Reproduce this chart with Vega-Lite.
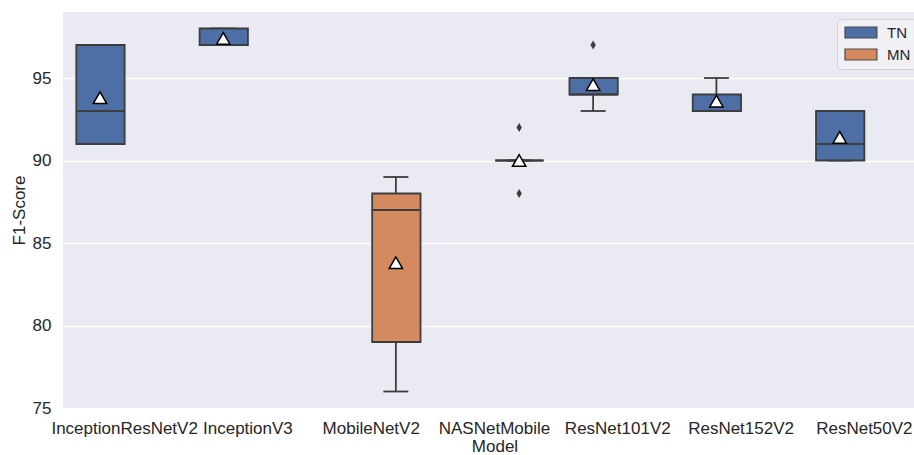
{
  "$schema": "https://vega.github.io/schema/vega-lite/v6.json",
  "width": 851,
  "height": 396,
  "autosize": "none",
  "padding": {"left": 63, "top": 12, "right": 0, "bottom": 47},
  "background": "white",
  "datasets": {
    "boxes": [
      {"model": "InceptionResNetV2", "group": "TN", "lower": 91, "q1": 91, "median": 93, "q3": 97, "upper": 97, "mean": 93.8},
      {"model": "InceptionV3", "group": "TN", "lower": 97, "q1": 97, "median": 97, "q3": 98, "upper": 98, "mean": 97.4},
      {"model": "MobileNetV2", "group": "MN", "lower": 76, "q1": 79, "median": 87, "q3": 88, "upper": 89, "mean": 83.8},
      {"model": "NASNetMobile", "group": "MN", "lower": 90, "q1": 90, "median": 90, "q3": 90, "upper": 90, "mean": 90},
      {"model": "ResNet101V2", "group": "TN", "lower": 93, "q1": 94, "median": 94, "q3": 95, "upper": 95, "mean": 94.6},
      {"model": "ResNet152V2", "group": "TN", "lower": 93, "q1": 93, "median": 93, "q3": 94, "upper": 95, "mean": 93.6},
      {"model": "ResNet50V2", "group": "TN", "lower": 90, "q1": 90, "median": 91, "q3": 93, "upper": 93, "mean": 91.4}
    ],
    "outliers": [
      {"model": "NASNetMobile", "group": "MN", "value": 92},
      {"model": "NASNetMobile", "group": "MN", "value": 88},
      {"model": "ResNet101V2", "group": "TN", "value": 97}
    ]
  },
  "config": {
    "font": "Liberation Sans",
    "view": {"fill": "#EAEAF2", "stroke": null},
    "axis": {
      "labelFont": "Liberation Sans",
      "titleFont": "Liberation Sans",
      "labelFontSize": 17,
      "titleFontSize": 17,
      "labelColor": "#262626",
      "titleColor": "#262626",
      "titleFontWeight": "normal",
      "domain": false,
      "ticks": false
    },
    "legend": {
      "labelFont": "Liberation Sans",
      "labelFontSize": 15,
      "labelColor": "#262626"
    }
  },
  "layer": [
    {
      "data": {"name": "boxes"},
      "mark": {"type": "rule", "stroke": "#3d3d3d", "strokeWidth": 1.8},
      "encoding": {
        "x": {"field": "model", "type": "nominal"},
        "xOffset": {"field": "group", "type": "nominal"},
        "y": {"field": "lower", "type": "quantitative"},
        "y2": {"field": "upper"}
      }
    },
    {
      "data": {"name": "boxes"},
      "mark": {"type": "tick", "color": "#3d3d3d", "thickness": 1.8, "size": 25, "opacity": 1},
      "encoding": {
        "x": {"field": "model", "type": "nominal"},
        "xOffset": {"field": "group", "type": "nominal"},
        "y": {"field": "lower", "type": "quantitative"}
      }
    },
    {
      "data": {"name": "boxes"},
      "mark": {"type": "tick", "color": "#3d3d3d", "thickness": 1.8, "size": 25, "opacity": 1},
      "encoding": {
        "x": {"field": "model", "type": "nominal"},
        "xOffset": {"field": "group", "type": "nominal"},
        "y": {"field": "upper", "type": "quantitative"}
      }
    },
    {
      "data": {"name": "boxes"},
      "mark": {"type": "bar", "stroke": "#3d3d3d", "strokeWidth": 1.8, "opacity": 1, "width": {"band": 0.98}},
      "encoding": {
        "x": {
          "field": "model", "type": "nominal",
          "sort": ["InceptionResNetV2", "InceptionV3", "MobileNetV2", "NASNetMobile", "ResNet101V2", "ResNet152V2", "ResNet50V2"],
          "scale": {"range": [0, 863], "paddingInner": 0.2, "paddingOuter": 0.1},
          "axis": {"title": "Model", "labelAngle": 0, "labelAlign": "center", "labelBaseline": "top", "labelOverlap": false, "labelFlush": false, "labelPadding": 12, "titlePadding": 2, "grid": false}
        },
        "xOffset": {"field": "group", "type": "nominal", "scale": {"domain": ["TN", "MN"]}},
        "y": {
          "field": "q1", "type": "quantitative",
          "scale": {"domain": [75, 99], "nice": false, "zero": false},
          "axis": {"title": "F1-Score", "values": [75, 80, 85, 90, 95], "grid": true, "gridColor": "white", "gridWidth": 1.5, "labelPadding": 12, "titlePadding": 4}
        },
        "y2": {"field": "q3"},
        "color": {
          "field": "group", "type": "nominal",
          "scale": {"domain": ["TN", "MN"], "range": ["#4e6fa6", "#d5895f"]},
          "legend": {
            "title": null,
            "orient": "none",
            "legendX": 774,
            "legendY": 7,
            "padding": 6,
            "fillColor": "#f0f0f5",
            "strokeColor": "#d0d0d6",
            "cornerRadius": 4,
            "symbolType": "M-1,-1H4.8V1H-1Z",
            "symbolSize": 121,
            "symbolStrokeColor": "#4a4a4a",
            "symbolStrokeWidth": 1.2,
            "symbolOpacity": 1,
            "labelOffset": 29,
            "rowPadding": 5
          }
        }
      }
    },
    {
      "data": {"name": "boxes"},
      "mark": {"type": "tick", "color": "#3d3d3d", "thickness": 1.8, "size": 48, "opacity": 1},
      "encoding": {
        "x": {"field": "model", "type": "nominal"},
        "xOffset": {"field": "group", "type": "nominal"},
        "y": {"field": "median", "type": "quantitative"}
      }
    },
    {
      "data": {"name": "outliers"},
      "mark": {"type": "point", "shape": "M0,-1L0.6,0L0,1L-0.6,0Z", "filled": true, "fill": "#3d3d3d", "size": 81, "opacity": 1},
      "encoding": {
        "x": {"field": "model", "type": "nominal"},
        "xOffset": {"field": "group", "type": "nominal"},
        "y": {"field": "value", "type": "quantitative"}
      }
    },
    {
      "data": {"name": "boxes"},
      "mark": {"type": "point", "shape": "triangle-up", "filled": true, "fill": "white", "stroke": "black", "strokeWidth": 1.5, "size": 180, "opacity": 1},
      "encoding": {
        "x": {"field": "model", "type": "nominal"},
        "xOffset": {"field": "group", "type": "nominal"},
        "y": {"field": "mean", "type": "quantitative"}
      }
    }
  ]
}
